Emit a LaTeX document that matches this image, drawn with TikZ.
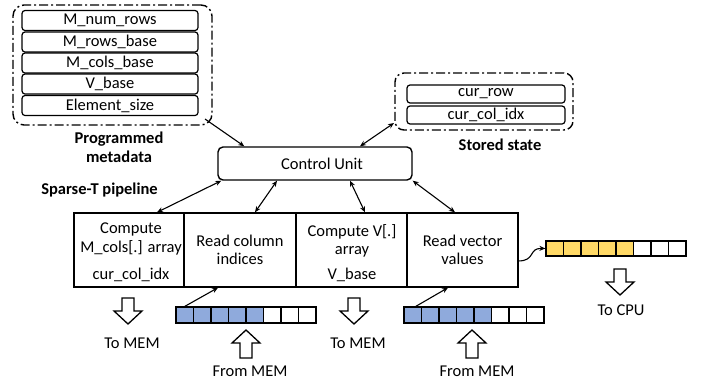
\documentclass[tikz,border=0pt]{standalone}
\usepackage{fontspec}
\setmainfont{Carlito}
\usetikzlibrary{arrows.meta,calc}
\definecolor{cblue}{HTML}{8FAADC}
\definecolor{cyellow}{HTML}{FFD966}
\begin{document}
\begin{tikzpicture}[x=1pt,y=-1pt,
  every node/.style={font=\fontsize{16.5}{18.5}\selectfont, inner sep=0pt},
  lbl/.style={font=\fontsize{16.5}{19}\selectfont\bfseries, align=center},
  fieldbox/.style={draw, line width=1.2pt, rounded corners=3pt, minimum width=176pt, minimum height=20pt},
  statebox/.style={draw, line width=1.2pt, rounded corners=3pt, minimum width=158pt, minimum height=18pt},
  group/.style={draw, line width=1.4pt, rounded corners=11pt, dash pattern=on 9pt off 3pt on 2pt off 3pt},
  stage/.style={draw, line width=1.4pt, minimum width=111pt, minimum height=74pt, align=center},
  cell/.style={draw, line width=1.2pt, minimum width=17.5pt, minimum height=16pt},
  ycell/.style={draw, line width=1.2pt, minimum width=17.5pt, minimum height=15pt},
  link/.style={line width=1.1pt, {Stealth[length=6pt,width=5pt]}-{Stealth[length=6pt,width=5pt]}},
  onelink/.style={line width=1.1pt, -{Stealth[length=6pt,width=5pt]}},
  hollow/.style={draw, line width=1.3pt, fill=white, line join=miter},
  hdown/.pic={\path[hollow] (-6,0)--(6,0)--(6,13)--(14,13)--(0,26)--(-14,13)--(-6,13)--cycle;},
  hup/.pic={\path[hollow] (-6,0)--(6,0)--(6,-15)--(14,-15)--(0,-28)--(-14,-15)--(-6,-15)--cycle;}
]
\useasboundingbox (0,0) rectangle (704,381);

% Programmed metadata
\node[group, minimum width=199pt, minimum height=120pt] (meta) at (112.5,65) {};
\node[fieldbox] (f1) at (110,20.5) {M\_num\_rows};
\node[fieldbox] (f2) at (110,42) {M\_rows\_base};
\node[fieldbox] (f3) at (110,63) {M\_cols\_base};
\node[fieldbox] (f4) at (110,84) {V\_base};
\node[fieldbox] (f5) at (110,105.5) {Element\_size};
\node[lbl] (metalbl) at (119,147.5) {Programmed\\metadata};

% Stored state
\node[group, minimum width=178pt, minimum height=57pt, rounded corners=9pt] (ss) at (484,101.5) {};
\node[statebox] (s1) at (486,94) {cur\_row};
\node[statebox] (s2) at (486,115) {cur\_col\_idx};
\node[lbl] (sslbl) at (500,145) {Stored state};

% Control unit
\node[draw, line width=1.4pt, rounded corners=5pt, minimum width=194pt, minimum height=33pt] (cu) at (315,163.5) {\hspace*{14pt}Control Unit};

\node[lbl] (pipelbl) at (99.5,190) {Sparse-T pipeline};

% Pipeline stages
\node[stage, minimum width=110pt] (b1) at (129,250) {};
\node[stage, minimum width=112pt] (b2) at (240,250) {Read column\\indices};
\node[stage] (b3) at (351.5,250) {};
\node[stage] (b4) at (462.5,250) {Read vector\\values};
\node[align=center] (t1a) at (131,239) {Compute\\M\_cols[.] array};
\node (t1b) at (131,275) {cur\_col\_idx};
\node[align=center] (t3a) at (352,241) {Compute V[.]\\array};
\node (t3b) at (352,275) {V\_base};

% Connectors to control unit
\coordinate (m1) at (205,119);
\coordinate (ssin) at (394,123);
\draw[onelink] (m1) -- ([xshift=27pt]cu.north west);
\draw[link] ([xshift=45pt]cu.north) -- (ssin);
\draw[link] ([xshift=4pt]cu.south west) -- ([xshift=28pt]b1.north);
\draw[link] ([xshift=-38pt]cu.south) -- ([xshift=15pt]b2.north);
\draw[link] ([xshift=35pt]cu.south) -- ([xshift=13.5pt]b3.north);
\draw[link] (cu.south east) -- ([xshift=-7.5pt]b4.north);

% Arrays
\foreach \i in {0,...,7}{
  \ifnum\i<5 \def\fc{cblue}\def\yc{cyellow}\else\def\fc{white}\def\yc{white}\fi
  \node[cell, fill=\fc] (a\i) at (184.75+17.5*\i,315) {};
  \node[cell, fill=\fc] (c\i) at (412.75+17.5*\i,315) {};
  \node[ycell, fill=\yc] (y\i) at (554.75+17.5*\i,248.5) {};
}
\draw[onelink] (a0.north) -- ([xshift=-22pt]b2.south);
\draw[onelink] ([xshift=3pt]c0.north) -- ([xshift=-14.5pt]b4.south);
\coordinate (vout) at (518,261);
\draw[onelink] (vout) .. controls (536,261) and (528,248) .. (y0.west);

% Hollow arrows and labels
\pic at (128,298) {hdown};
\pic at (354,298) {hdown};
\pic at (620,269) {hdown};
\pic at (246,358) {hup};
\pic at (472,358) {hup};
\node (tm1) at (132,343) {To MEM};
\node (tm2) at (358,343) {To MEM};
\node (fm1) at (250,371) {From MEM};
\node (fm2) at (477,371) {From MEM};
\node (cpu) at (621,310) {To CPU};
\end{tikzpicture}
\end{document}
